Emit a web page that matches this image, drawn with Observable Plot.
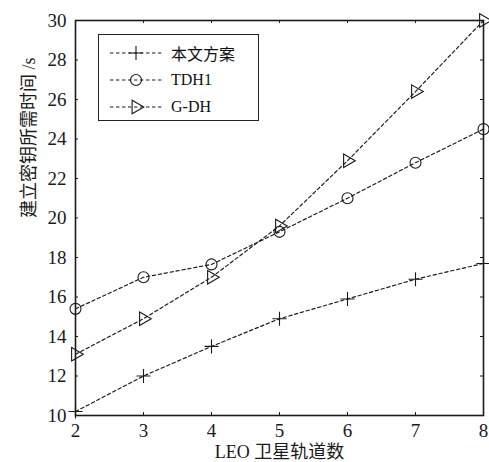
<!DOCTYPE html>
<html><head><meta charset="utf-8">
<script src="https://cdn.jsdelivr.net/npm/d3@7"></script>
<script src="https://cdn.jsdelivr.net/npm/@observablehq/plot@0.6"></script>
<style>
body{margin:0;background:#fff;}
#wrap{position:relative;width:489px;height:462px;}
#wrap svg text{font-family:"Liberation Serif","Times New Roman","DejaVu Serif","Noto Sans CJK SC",serif !important;}
#legend{position:absolute;left:98px;top:34px;width:159px;height:85px;border:1.3px solid #222;background:#fff;font-family:"Liberation Serif","Times New Roman","DejaVu Serif","Noto Sans CJK SC",serif;font-size:16px;color:#111;box-sizing:content-box;}
.row{position:absolute;left:10px;height:20px;display:flex;align-items:center;}
.row span{margin-left:8px;}
</style></head><body><div id="wrap"></div>
<script>
const orbits = [2, 3, 4, 5, 6, 7, 8];
const oursTimes = [10.2, 12.0, 13.5, 14.9, 15.9, 16.9, 17.7];
const tdh1Times = [15.4, 17.0, 17.65, 19.3, 21.0, 22.8, 24.5];
const gdhTimes = [13.1, 14.9, 17.0, 19.6, 22.9, 26.4, 30.0];
const seriesNames = ["本文方案", "TDH1", "G-DH"];
const xTicks = [2, 3, 4, 5, 6, 7, 8];
const yTicks = [10, 12, 14, 16, 18, 20, 22, 24, 26, 28, 30];
const xLabel = "LEO 卫星轨道数";
const yLabel = "建立密钥所需时间 /s";

const seriesValues = [oursTimes, tdh1Times, gdhTimes];
const symbols = ["plus", "circle", "triangle"];
const rotations = [0, 0, 90];
const radii = [4.6, 5.5, 5];
const rows = seriesNames.flatMap((s, i) => orbits.map((o, j) => ({series: s, x: o, y: seriesValues[i][j]})));

const W = 489, H = 462, mL = 75, mR = 6, mT = 20, mB = 47;
const plotW = W - mL - mR, plotH = H - mT - mB;
const ink = "#1a1a1a";
const dash = "3.4,2.6";
const serif = "'Liberation Serif', 'Times New Roman', 'DejaVu Serif', 'Noto Sans CJK SC', serif";

const marks = [];
seriesNames.forEach((s, i) => {
  const d = rows.filter(r => r.series === s);
  marks.push(Plot.line(d, {x: "x", y: "y", stroke: ink, strokeWidth: 1.15, strokeDasharray: dash}));
  marks.push(Plot.dot(d, {x: "x", y: "y", symbol: () => symbols[i], r: radii[i], rotate: rotations[i], stroke: ink, strokeWidth: 1.1, fill: "none"}));
});

const chart = Plot.plot({
  width: W, height: H,
  marginLeft: mL, marginRight: mR, marginTop: mT, marginBottom: mB,
  style: {fontFamily: serif, fontSize: "19px", color: ink, background: "#fff"},
  symbol: {type: "identity"},
  x: {domain: [2, 8], ticks: xTicks, label: null},
  y: {domain: [10, 30], ticks: yTicks, label: null},
  marks: [
    Plot.axisX(xTicks, {tickSize: 0, tickPadding: 8, label: null, fontSize: 19, fontFamily: serif}),
    Plot.axisY(yTicks, {tickSize: 0, tickPadding: 9, label: null, fontSize: 19, fontFamily: serif}),
    Plot.tickX(xTicks, {x: d => d, insetTop: plotH - 3, stroke: ink}),
    Plot.tickX(xTicks, {x: d => d, insetBottom: plotH - 3, stroke: ink}),
    Plot.tickY(yTicks, {y: d => d, insetRight: plotW - 3, stroke: ink}),
    Plot.tickY(yTicks, {y: d => d, insetLeft: plotW - 3, stroke: ink}),
    ...marks,
    Plot.frame({stroke: ink, strokeWidth: 1.6}),
    Plot.text([xLabel], {frameAnchor: "bottom", dy: 42, fontSize: 18, fill: ink, fontFamily: serif}),
    Plot.text([yLabel], {frameAnchor: "left", dx: -46, rotate: -90, fontSize: 18, fill: ink, fontFamily: serif})
  ]
});
const wrap = document.getElementById("wrap");
wrap.appendChild(chart);

// legend
const leg = document.createElement("div");
leg.id = "legend";
wrap.appendChild(leg);
const rowTops = [8, 35, 62];
seriesNames.forEach((s, i) => {
  const row = d3.select(leg).append("div").attr("class", "row").style("top", rowTops[i] + "px");
  const svg = row.append("svg").attr("width", 54).attr("height", 20);
  svg.append("line").attr("x1", 1).attr("x2", 53).attr("y1", 10).attr("y2", 10)
    .attr("stroke", ink).attr("stroke-width", 1.15).attr("stroke-dasharray", dash);
  const sym = {plus: d3.symbolPlus, circle: d3.symbolCircle, triangle: d3.symbolTriangle}[symbols[i]];
  svg.append("path").attr("d", d3.symbol(sym, Math.PI * radii[i] * radii[i])())
    .attr("transform", `translate(27,10) rotate(${rotations[i]})`)
    .attr("fill", "none").attr("stroke", ink).attr("stroke-width", 1.1);
  row.append("span").text(s);
});
</script>
</body></html>
